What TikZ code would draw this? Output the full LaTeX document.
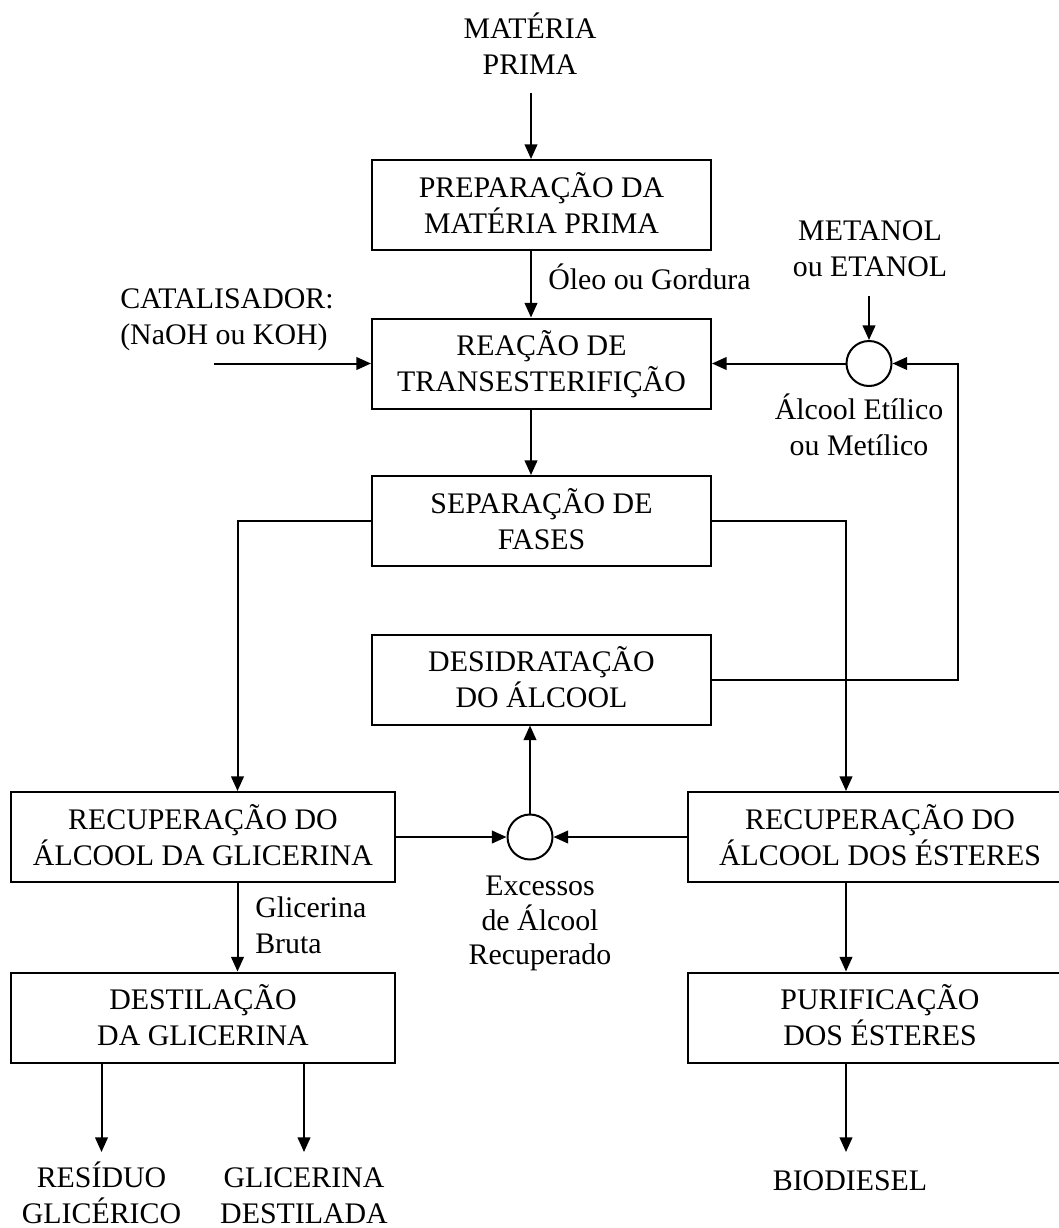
\documentclass[tikz,border=0pt]{standalone}
\usepackage{fontspec}
\setmainfont{Liberation Serif}
\usetikzlibrary{arrows.meta}
\newcommand\ts{\rule[-5.2pt]{0pt}{26pt}}
\begin{document}
\begin{tikzpicture}[x=0.75pt,y=-0.75pt,
  txt/.style={font=\fontsize{22.4pt}{25.9pt}\selectfont},
  procbox/.style={txt,draw,line width=1.5pt,inner sep=0pt,align=center,minimum height=67.5pt},
  midbox/.style={procbox,minimum width=254.25pt},
  lowbox/.style={procbox,minimum width=288pt},
  mixer/.style={draw,circle,line width=1.5pt,minimum size=33.75pt,inner sep=0pt},
  lbl/.style={txt,inner sep=0pt,align=center},
  lbll/.style={txt,inner sep=0pt,align=left,anchor=west},
  arr/.style={line width=1.5pt,-{Triangle[length=11pt,width=9.5pt]}}]
\useasboundingbox (0,0) rectangle (1058,1228);

% process boxes
\node[midbox] (prep)  at (541.5,205)   {\ts PREPARAÇÃO DA\\MATÉRIA PRIMA\ts};
\node[midbox] (reac)  at (541.5,363.5) {\ts REAÇÃO DE\\TRANSESTERIFIÇÃO\ts};
\node[midbox] (sep)   at (541.5,521)   {\ts SEPARAÇÃO DE\\FASES\ts};
\node[midbox] (desid) at (541.5,679.5) {\ts DESIDRATAÇÃO\\DO ÁLCOOL\ts};
\node[lowbox] (recg)  at (203,837)     {\ts RECUPERAÇÃO DO\\ÁLCOOL DA GLICERINA\ts};
\node[lowbox] (rece)  at (880,837)     {\ts RECUPERAÇÃO DO\\ÁLCOOL DOS ÉSTERES\ts};
\node[lowbox] (dest)  at (203,1017.5)  {\ts DESTILAÇÃO\\DA GLICERINA\ts};
\node[lowbox] (puri)  at (880,1017.5)  {\ts PURIFICAÇÃO\\DOS ÉSTERES\ts};

% mixers
\node[mixer] (c1) at (869,363.5) {};
\node[mixer] (c2) at (530,837) {};

% labels
\node[lbl] (mp)   at (530,45.7)    {\ts MATÉRIA\\PRIMA\ts};
\node[txt,inner sep=0pt,anchor=base west] (oleo) at (548,289) {Óleo ou Gordura};
\node[lbll] (cat) at (120,316.4)   {\ts CATALISADOR:\\(NaOH ou KOH)\ts};
\node[lbl] (met)  at (870,248.4)   {\ts METANOL\\ou ETANOL\ts};
\node[lbl] (alc)  at (859,427.4)   {\ts Álcool Etílico\\ou Metílico\ts};
\node[lbl] (exc)  at (540,919.7)   {\ts Excessos\\de Álcool\\Recuperado\ts};
\node[lbll] (gb)  at (255,925.1)   {\ts Glicerina\\Bruta\ts};
\node[lbl] (res)  at (101.5,1195.4) {\ts RESÍDUO\\GLICÉRICO\ts};
\node[lbl] (gd)   at (304,1195.4)  {\ts GLICERINA\\DESTILADA\ts};
\node[txt,inner sep=0pt,anchor=base] (bio) at (850,1190) {BIODIESEL};

% connector points
\coordinate (mpa) at (531,93);
\coordinate (cata) at (214,363.5);
\coordinate (meta) at (869,296);
\coordinate (loop) at (958,679.5);
\coordinate (gl) at (237.5,521);
\coordinate (es) at (846,521);
\coordinate (o1) at (101.5,1152);
\coordinate (o2) at (304,1152);
\coordinate (o3) at (846,1152);

% connectors
\draw[arr] (mpa) -- (mpa |- prep.north);
\draw[arr] (prep.south -| mpa) -- (reac.north -| mpa);
\draw[arr] (reac.south -| mpa) -- (sep.north -| mpa);
\draw[arr] (cata) -- (reac.west);
\draw[arr] (meta) -- (c1.north);
\draw[arr] (c1.west) -- (reac.east);
\draw[arr] (desid.east) -- (loop) |- (c1.east);
\draw[arr] (sep.west) -- (gl) -- (gl |- recg.north);
\draw[arr] (sep.east) -- (es) -- (es |- rece.north);
\draw[arr] (recg.east) -- (c2.west);
\draw[arr] (rece.west) -- (c2.east);
\draw[arr] (c2.north) -- (c2.north |- desid.south);
\draw[arr] (recg.south -| gl) -- (dest.north -| gl);
\draw[arr] (rece.south -| es) -- (puri.north -| es);
\draw[arr] (dest.south -| o1) -- (o1);
\draw[arr] (dest.south -| o2) -- (o2);
\draw[arr] (puri.south -| o3) -- (o3);
\end{tikzpicture}
\end{document}
